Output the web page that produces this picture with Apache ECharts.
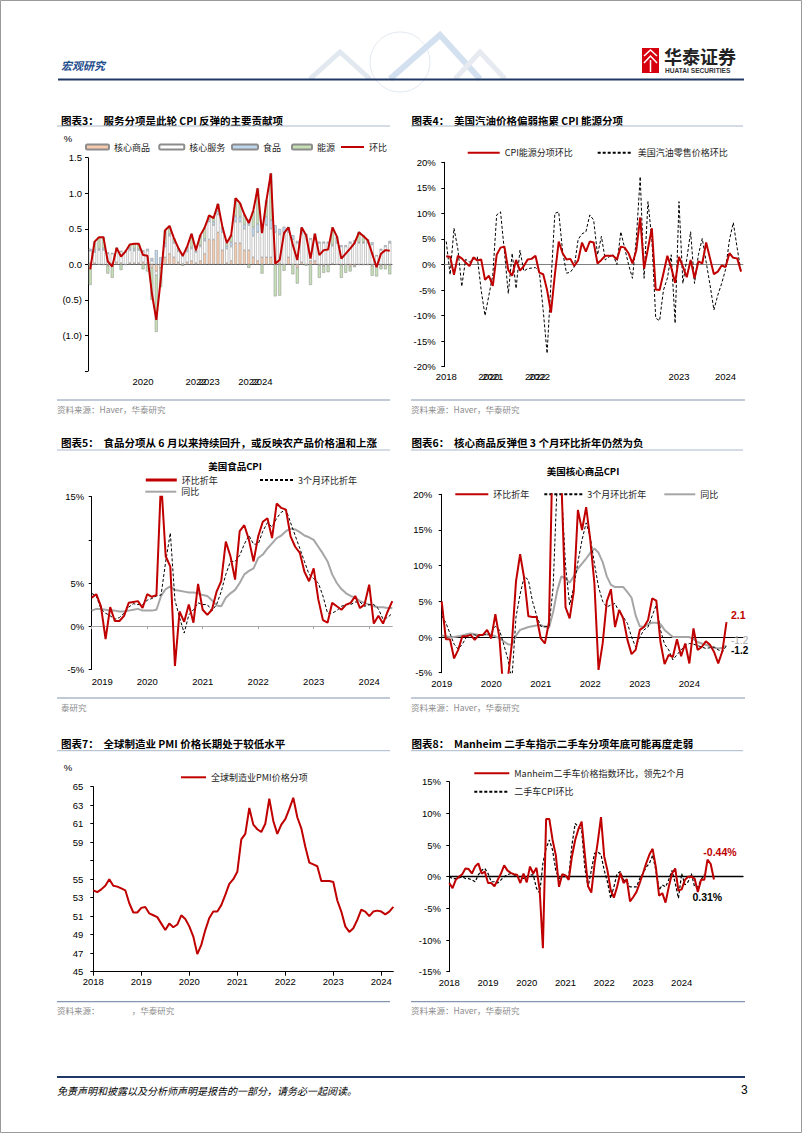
<!DOCTYPE html>
<html>
<head>
<meta charset="utf-8">
<title>宏观研究</title>
<script src="https://cdn.jsdelivr.net/npm/echarts/dist/echarts.min.js"></script>
<style>html,body{margin:0;padding:0;background:#fff}#c{width:802px;height:1133px}</style>
</head>
<body>
<div id="c"></div>
<script>
const NUM = '"Liberation Sans", Arial, sans-serif';
const CJK = '"Noto Sans CJK SC", "Noto Sans", sans-serif';

function months(y0, n) {
  const a = [];
  for (let i = 0; i < n; i++) a.push((y0 + Math.floor(i / 12)) + '-' + String(i % 12 + 1).padStart(2, '0'));
  return a;
}

// ---------- Chart 3: CPI contributions ----------
const c3Months = months(2019, 69);
const c3Ticks = [[12, '2020'], [24, '2022'], [27, '2023'], [36, '2022'], [39, '2024']];
const c3Goods = [0.02,0.02,0.00,-0.01,-0.02,0.01,0.03,0.02,0.00,0.02,0.02,0.02,0.03,0.02,-0.05,-0.10,-0.05,0.10,0.15,0.10,0.03,0.01,0.03,0.05,0.02,0.05,0.15,0.35,0.35,0.45,0.20,0.02,0.05,0.30,0.30,0.20,0.20,0.10,0.05,0.10,0.10,0.10,0.05,0.02,0.00,0.10,0.00,-0.05,0.03,0.00,0.05,0.05,-0.01,-0.02,-0.01,0.01,0.00,-0.01,0.00,-0.03,-0.02,-0.01,-0.01,-0.01,-0.02,-0.02,-0.02,-0.01,-0.01];
const c3Services = [0.17,0.15,0.20,0.20,0.15,0.14,0.18,0.16,0.17,0.18,0.17,0.18,0.15,0.17,0.05,-0.05,0.00,0.15,0.25,0.20,0.15,0.10,0.15,0.17,0.15,0.20,0.18,0.25,0.20,0.25,0.25,0.20,0.20,0.30,0.30,0.30,0.35,0.30,0.40,0.35,0.45,0.40,0.40,0.40,0.45,0.35,0.35,0.30,0.40,0.40,0.30,0.35,0.30,0.30,0.30,0.25,0.30,0.25,0.25,0.30,0.30,0.30,0.30,0.30,0.28,0.12,0.20,0.25,0.30];
const c3Food = [0.03,0.03,0.02,0.03,0.02,0.01,0.02,0.01,0.02,0.03,0.03,0.02,0.02,0.03,0.04,0.20,0.10,0.05,0.03,0.02,0.02,0.03,0.03,0.02,0.02,0.02,0.03,0.03,0.05,0.05,0.05,0.04,0.06,0.08,0.07,0.06,0.08,0.12,0.12,0.12,0.12,0.12,0.10,0.08,0.08,0.07,0.06,0.03,0.05,0.03,0.02,0.02,0.02,0.02,0.02,0.02,0.03,0.02,0.02,0.02,0.04,0.01,0.01,0.02,0.03,0.01,0.02,0.02,0.03];
const c3Energy = [-0.29,0.12,0.16,0.16,-0.11,-0.19,0.00,-0.08,-0.01,0.05,0.07,0.07,-0.07,-0.10,-0.45,-0.80,-0.27,0.18,0.11,0.05,0.03,-0.02,0.04,0.19,0.01,0.14,0.16,0.06,0.05,0.10,0.03,0.04,0.10,0.25,0.19,0.14,-0.05,0.23,0.50,-0.13,0.23,0.66,-0.45,-0.44,-0.09,0.00,-0.14,-0.22,0.04,-0.02,-0.29,0.01,-0.18,-0.10,-0.10,0.24,0.06,-0.18,-0.12,-0.07,-0.02,0.15,0.10,0.03,-0.14,-0.15,-0.05,-0.06,-0.13];
const c3Total = [-0.07,0.32,0.38,0.38,0.04,-0.03,0.23,0.11,0.18,0.28,0.29,0.29,0.13,0.12,-0.41,-0.78,-0.22,0.48,0.54,0.37,0.23,0.12,0.25,0.43,0.20,0.41,0.52,0.69,0.65,0.85,0.53,0.30,0.41,0.93,0.86,0.70,0.58,0.75,1.07,0.44,0.90,1.28,0.01,0.06,0.44,0.52,0.27,0.06,0.52,0.41,0.08,0.43,0.13,0.20,0.21,0.52,0.39,0.08,0.15,0.22,0.30,0.45,0.40,0.34,0.15,-0.04,0.15,0.20,0.19];

// ---------- Chart 4: energy CPI vs gasoline ----------
const c4Months = months(2018, 77);
const c4Ticks = [[0, '2018'], [11, '2020'], [12, '2021'], [23, '2022'], [24, '2022'], [60, '2023'], [72, '2024']];
const c4Cpi = [1.6,1.5,-2.0,1.7,1.2,0.4,-0.3,1.4,0.8,1.0,-3.0,-2.2,-4.2,1.9,3.3,3.5,-1.1,-2.2,0.9,-1.2,-0.3,1.0,1.1,1.7,-1.6,-1.9,-5.0,-9.4,-2.0,4.5,2.2,1.0,1.1,-0.3,0.8,4.3,2.5,4.5,4.3,0.2,0.9,1.7,1.7,1.7,1.0,3.5,3.3,2.2,0.2,2.8,9.2,-0.8,3.1,7.1,-4.9,-5.0,-1.7,1.7,-0.6,-3.6,1.5,-0.4,-2.5,0.9,-2.7,0.6,0.2,4.3,1.2,-1.9,-1.4,-0.2,-0.5,2.2,1.3,1.2,-1.4];
const c4Gas = [4.5,-2.0,7.1,3.0,-4.3,1.0,0.5,1.0,1.5,-5.0,-10.0,-6.0,-2.0,9.7,10.3,2.5,-5.7,2.2,-4.7,2.8,-1.3,-0.8,-0.7,-0.6,-1.4,-9.0,-17.4,-3.5,10.0,10.3,2.5,-1.7,-1.5,-0.5,4.9,6.0,6.4,9.7,8.7,1.9,5.5,0.9,1.5,1.9,0.0,6.4,3.2,0.0,-2.7,5.0,17.2,-2.7,12.3,5.0,-10.5,-11.0,-5.0,-2.7,1.9,-11.5,12.3,-3.7,1.0,6.4,-3.7,1.9,5.1,0.5,-4.0,-8.9,-6.0,-3.7,-1.0,4.8,8.2,3.2,-1.4];

// ---------- Chart 5: food CPI ----------
const c5Months = months(2019, 66);
const c5Ticks = [[0, '2019'], [12, '2020'], [24, '2021'], [36, '2022'], [48, '2023'], [60, '2024']];
const c5Mom = [3.3,3.7,2.3,-1.5,2.2,0.6,0.6,1.2,2.7,2.8,2.9,2.1,3.7,3.4,3.6,17.0,8.1,6.9,-4.6,1.7,0.5,2.5,0.4,4.9,1.9,1.3,1.9,4.0,5.2,9.8,8.1,5.4,11.0,11.7,10.0,7.5,10.4,12.1,12.5,10.2,14.2,13.7,13.5,10.4,9.2,8.5,6.3,5.2,6.7,3.1,0.7,0.4,2.7,2.3,1.9,2.5,2.7,3.5,2.1,2.5,4.8,0.3,1.2,0.3,1.7,2.9];
const c5Mom3 = [3.8,3.5,2.0,1.5,1.2,0.8,1.0,1.5,2.2,2.6,2.5,2.5,3.0,3.2,3.5,3.6,7.5,10.8,3.0,1.0,-0.8,1.3,1.9,2.7,2.5,2.5,1.8,2.5,4.0,6.0,7.5,7.5,8.2,9.5,10.5,9.5,9.5,11.0,12.0,11.5,12.5,13.2,13.5,12.0,10.5,9.0,7.5,6.0,5.5,5.0,3.5,1.5,1.5,1.8,2.3,2.5,2.5,2.8,2.8,2.3,2.5,2.5,2.0,0.8,1.0,1.5];
const c5Yoy = [1.8,2.0,2.0,1.9,1.8,1.8,1.7,1.7,1.8,1.9,2.0,1.8,1.8,1.8,1.9,3.5,4.3,4.6,4.2,4.1,4.0,3.9,3.9,3.8,3.6,3.5,3.0,2.4,2.3,3.3,3.8,4.2,5.0,6.0,6.4,6.7,7.9,8.3,9.0,9.6,10.2,10.5,11.0,11.3,11.2,10.9,10.5,10.3,10.0,9.2,8.4,7.5,6.0,5.0,4.3,3.8,3.5,3.3,2.9,2.7,2.5,2.3,2.2,2.2,2.1,2.1];

// ---------- Chart 6: core goods CPI ----------
const c6Months = months(2019, 74);
const c6Ticks = [[0, '2019'], [12, '2020'], [24, '2021'], [36, '2022'], [48, '2023'], [60, '2024']];
const c6Mom = [5.0,-0.3,-0.3,-3.0,-1.8,0.1,0.1,0.3,-0.4,0.3,0.3,1.0,-0.2,3.2,-0.2,-8.0,-6.0,-0.9,7.8,11.6,8.2,2.9,2.8,2.8,-0.2,-0.9,2.1,30.0,28.0,22.0,4.2,2.6,6.4,17.8,15.0,18.2,13.6,7.5,-4.6,-0.9,5.0,6.7,1.4,3.8,2.6,-0.4,-2.4,-1.8,1.0,1.4,2.4,5.4,5.1,-0.7,-3.8,-2.5,-2.8,-0.3,-2.7,-0.9,-3.7,1.2,-1.8,-1.4,-0.6,-1.1,-2.1,-3.7,-2.0,2.1];
const c6Mom3 = [3.0,2.0,0.5,-1.0,-1.7,-1.0,0.0,0.3,0.3,0.1,0.4,0.3,0.6,1.5,1.0,-1.0,-3.0,-6.0,2.8,6.0,8.5,8.0,5.0,3.0,1.5,1.5,1.5,7.0,22.0,21.0,10.0,4.5,7.0,10.5,13.6,16.0,14.0,10.3,7.0,5.0,4.2,4.5,4.7,3.5,2.8,1.9,0.0,-1.4,0.0,1.0,1.4,3.0,4.5,1.0,-1.0,-1.8,-3.2,-2.5,-1.8,-1.2,-0.9,-1.0,-1.2,-1.4,-1.6,-1.5,-1.4,-1.8,-2.1,-1.2];
const c6Yoy = [0.2,0.1,0.0,0.0,0.1,0.2,0.4,0.5,0.4,0.3,0.3,0.4,0.3,0.1,-0.2,-0.6,-1.0,-1.1,0.2,1.0,1.2,1.4,1.5,1.6,1.7,1.4,1.3,3.5,6.5,8.5,8.2,7.6,8.5,9.6,10.3,11.0,11.8,12.4,11.8,10.5,8.5,7.3,7.0,7.0,7.0,6.3,5.5,3.0,1.5,1.4,1.8,2.0,2.0,1.8,1.0,0.5,0.0,0.0,0.0,0.0,0.0,-0.3,-0.7,-0.9,-1.1,-1.3,-1.5,-1.6,-1.5,-1.2];

// ---------- Chart 7: global manufacturing PMI prices ----------
const c7Months = months(2018, 76);
const c7Ticks = [[0, '2018'], [12, '2019'], [24, '2020'], [36, '2021'], [48, '2022'], [60, '2023'], [72, '2024']];
const c7Pmi = [53.8,53.6,53.9,54.3,55.0,54.3,54.2,54.0,53.8,52.4,51.4,51.4,51.9,52.0,51.3,51.1,50.9,50.2,49.5,50.2,49.8,50.1,51.1,50.7,49.9,48.8,46.9,47.9,49.5,50.8,51.5,51.5,52.2,53.3,54.5,55.0,55.8,59.3,59.9,62.7,60.9,60.4,60.1,61.0,63.7,61.3,59.9,60.9,61.5,62.6,63.8,61.7,60.5,58.5,56.8,56.6,56.4,54.8,54.8,54.8,54.7,52.7,51.5,49.9,49.3,49.7,50.6,51.7,51.5,51.0,51.5,51.6,51.5,51.2,51.5,52.0];

// ---------- Chart 8: Manheim vs used car CPI ----------
const c8Months = months(2018, 92);
const c8Ticks = [[0, '2018'], [12, '2019'], [24, '2020'], [36, '2021'], [48, '2022'], [60, '2023'], [72, '2024']];
const c8Manheim = [-1.0,-1.8,-0.5,0.0,0.4,1.3,1.2,0.5,1.6,2.1,0.5,0.8,-1.0,-1.0,-1.5,-0.5,0.5,1.8,1.0,0.6,0.4,0.3,-1.0,0.5,-0.9,1.6,0.5,1.4,-2.1,-11.3,9.1,9.1,5.8,3.4,-1.6,0.4,0.2,-0.5,3.2,5.8,7.5,8.7,3.5,-1.5,-2.5,2.0,5.5,9.4,3.2,1.0,-2.1,-3.3,-1.6,0.6,-1.0,-0.4,-3.9,-3.2,-2.4,-1.0,0.5,2.1,3.5,4.4,1.5,-3.0,-2.6,-4.1,-1.6,0.5,1.3,-2.2,-2.0,-0.5,0.0,0.0,-0.3,-2.4,-0.5,-0.5,2.7,2.0,-0.44];
const c8Cpi = [0.0,-0.3,-0.3,-0.2,0.0,-0.3,-0.3,-0.5,-0.8,0.3,1.0,1.3,0.5,-0.8,-0.8,-1.0,-0.5,0.0,0.3,0.5,0.3,0.0,0.0,-0.3,0.0,0.3,0.3,-1.8,-2.6,2.1,4.5,5.8,4.2,1.0,-0.3,0.0,0.0,0.0,5.0,8.4,7.9,7.4,1.3,-1.6,1.0,3.7,3.9,3.5,1.0,-0.8,-3.4,-1.6,0.5,0.8,-0.5,-0.8,-1.6,-1.6,-1.6,-0.3,0.5,1.5,2.1,3.4,1.0,-2.1,-1.3,-1.6,-0.5,1.0,-1.0,-3.4,0.5,-1.3,-0.8,0.5,-1.6,-1.6,-0.5,0.31];

// ---------- helpers ----------
const RED = '#c00000', GRAY = '#a6a6a6';

function yAx(grid, min, max, interval, fmt, margin) {
  return {
    type: 'value', gridIndex: grid, min: min, max: max, interval: interval,
    axisLine: { show: true, onZero: false, lineStyle: { color: '#000', width: 1 } },
    axisTick: { show: true, inside: false, length: 3, lineStyle: { color: '#000' } },
    splitLine: { show: false },
    axisLabel: { formatter: fmt, margin: margin, fontSize: 9.5, color: '#000', fontFamily: NUM }
  };
}
function xLab(grid, cats, ticks, gap, margin, extra) {
  const m = new Map(ticks);
  return Object.assign({
    type: 'category', gridIndex: grid, data: cats, boundaryGap: gap, position: 'bottom',
    axisLine: { show: false, onZero: false }, axisTick: { show: false }, splitLine: { show: false },
    axisLabel: { interval: 0, margin: margin, fontSize: 9.5, color: '#000', fontFamily: NUM,
      formatter: function (v, i) { return m.has(i) ? m.get(i) : ''; } }
  }, extra || {});
}
function xZero(grid, cats, gap, color, width, ticks) {
  const s = new Set((ticks || []).map(function (t) { return t[0]; }));
  return {
    type: 'category', gridIndex: grid, data: cats, boundaryGap: gap, position: 'bottom',
    axisLine: { show: true, onZero: true, lineStyle: { color: color, width: width } },
    axisTick: { show: !!ticks, interval: function (i) { return s.has(i); }, length: 3, lineStyle: { color: color } },
    axisLabel: { show: false }, splitLine: { show: false }
  };
}
const HIDE = { color: 'rgba(0,0,0,0)', borderColor: 'rgba(0,0,0,0)', borderWidth: 0, opacity: 0 };
function lg(name, left, top, w, h, extra, isLine) {
  const o = {
    show: true, data: [name], left: left, top: top, padding: 0, itemWidth: w, itemHeight: h,
    selectedMode: false, formatter: function (n) { return n.split('#')[0]; },
    textStyle: { fontSize: 9, color: '#222', fontFamily: CJK }
  };
  if (isLine) o.itemStyle = HIDE;
  return Object.assign(o, extra || {});
}
function line(name, xi, yi, data, color, width, type, z) {
  return { type: 'line', name: name, xAxisIndex: xi, yAxisIndex: yi, data: data, symbol: 'none',
    showAllSymbol: true,
    lineStyle: { color: color, width: width, type: type || 'solid' }, itemStyle: { color: color },
    z: z || 3, animation: false };
}
function bar(name, data, color) {
  return { type: 'bar', name: name, xAxisIndex: 0, yAxisIndex: 0, stack: 'c3', data: data, barWidth: 3,
    itemStyle: { color: color, borderColor: '#8c8c8c', borderWidth: 0.5 }, animation: false };
}
function lastLabel(arr, label) {
  return arr.map(function (v, i) {
    return i === arr.length - 1
      ? { value: v, symbol: 'circle', symbolSize: 1, itemStyle: { color: 'rgba(0,0,0,0)', borderWidth: 0 }, label: label }
      : v;
  });
}

const fmt3 = function (v) {
  if (Math.abs(v + 1.5) < 1e-9) return '';
  return v < 0 ? '(' + (-v).toFixed(1) + ')' : v.toFixed(1);
};

// ---------- page graphics ----------
function txt(t, x, y, font, fill, align) {
  return { type: 'text', style: { text: t, x: x, y: y, font: font, fill: fill || '#000', align: align || 'left', verticalAlign: 'middle' } };
}
function hl(x1, x2, y, color, w) {
  return { type: 'line', shape: { x1: x1, y1: y, x2: x2, y2: y }, style: { stroke: color, lineWidth: w || 1 } };
}
const TF = 'bold 10.5px ' + CJK;
const SF = '8.5px ' + CJK;
const elements = [
  { type: 'rect', shape: { x: 0.5, y: 0.5, width: 801, height: 1132 }, style: { fill: 'none', stroke: '#9a9a9a', lineWidth: 1 } },
  // header decoration
  { type: 'circle', shape: { cx: 400, cy: 62, r: 30 }, style: { fill: 'none', stroke: '#e3e9f1', lineWidth: 1 } },
  { type: 'polyline', shape: { points: [[310, 79], [340, 52], [370, 79]] }, style: { stroke: '#e2e8f0', lineWidth: 5, fill: 'none' } },
  { type: 'polyline', shape: { points: [[390, 79], [440, 35], [480, 79]] }, style: { stroke: '#d3e0ef', lineWidth: 6, fill: 'none' } },
  { type: 'polyline', shape: { points: [[455, 79], [480, 52], [505, 79]] }, style: { stroke: '#e7ebf1', lineWidth: 5, fill: 'none' } },
  txt('宏观研究', 61, 65, 'italic bold 11px ' + CJK, '#1f4e8c'),
  hl(58, 744, 79.5, '#1f3864', 2),
  { type: 'rect', shape: { x: 642, y: 48, width: 17, height: 25 }, style: { fill: '#d7000f' } },
  { type: 'polyline', shape: { points: [[644, 56], [650.5, 50], [657, 56]] }, style: { stroke: '#fff', lineWidth: 1.5, fill: 'none' } },
  { type: 'polyline', shape: { points: [[644, 63], [650.5, 56], [657, 63]] }, style: { stroke: '#fff', lineWidth: 1.5, fill: 'none' } },
  { type: 'line', shape: { x1: 650.5, y1: 60, x2: 650.5, y2: 72 }, style: { stroke: '#fff', lineWidth: 1.5 } },
  txt('华泰证券', 664, 56, 'bold 18px ' + CJK, '#222'),
  txt('HUATAI SECURITIES', 665, 70, 'bold 6.6px ' + NUM, '#333'),
  // footer
  hl(57, 745, 1077, '#1f3864', 2),
  txt('免责声明和披露以及分析师声明是报告的一部分，请务必一起阅读。', 57, 1090, 'italic 10px ' + CJK, '#000'),
  txt('3', 741, 1090, '12px ' + NUM, '#000'),
  // chart titles
  txt('图表3：  服务分项是此轮 CPI 反弹的主要贡献项', 61, 120, TF),
  hl(57, 390, 126, '#a9b8cc', 1),
  txt('图表4：  美国汽油价格偏弱拖累 CPI 能源分项', 411.5, 120, TF),
  hl(411, 743, 126, '#a9b8cc', 1),
  txt('图表5：  食品分项从 6 月以来持续回升，或反映农产品价格温和上涨', 61, 442.7, TF),
  hl(57, 390, 450, '#a9b8cc', 1),
  txt('图表6：  核心商品反弹但 3 个月环比折年仍然为负', 411.5, 442.7, TF),
  hl(411, 743, 450, '#a9b8cc', 1),
  txt('图表7：  全球制造业 PMI 价格长期处于较低水平', 61, 743.3, TF),
  hl(57, 390, 750.7, '#a9b8cc', 1),
  txt('图表8：  Manheim 二手车指示二手车分项年底可能再度走弱', 411.5, 743.3, TF),
  hl(411, 743, 750.7, '#a9b8cc', 1),
  // subtitles and units
  txt('%', 68, 138.3, '9.5px ' + NUM, '#000', 'center'),
  txt('%', 68, 767.7, '9.5px ' + NUM, '#000', 'center'),
  txt('美国食品CPI', 235, 465.7, 'bold 9.5px ' + CJK, '#000', 'center'),
  txt('美国核心商品CPI', 583, 470.7, 'bold 9.5px ' + CJK, '#000', 'center'),
  // sources
  hl(57, 390, 400, '#8497b0', 1.2),
  hl(411, 745, 400, '#8497b0', 1.2),
  txt('资料来源：Haver，华泰研究', 57, 408.5, SF, '#8c8c8c'),
  txt('资料来源：Haver，华泰研究', 411, 408.5, SF, '#8c8c8c'),
  hl(57, 390, 698, '#8497b0', 1.2),
  hl(411, 745, 698, '#8497b0', 1.2),
  txt('泰研究', 61, 706.7, SF, '#8c8c8c'),
  txt('资料来源：Haver，华泰研究', 411, 706.7, SF, '#8c8c8c'),
  hl(57, 390, 1001.7, '#8497b0', 1.2),
  hl(411, 745, 1001.7, '#8497b0', 1.2),
  txt('资料来源：', 57, 1010, SF, '#8c8c8c'),
  txt('，华泰研究', 131.7, 1010, SF, '#8c8c8c'),
  txt('资料来源：Haver，华泰研究', 411, 1010, SF, '#8c8c8c')
];

const c7Set = new Set(c7Ticks.map(function (t) { return t[0]; }));
const c7Map = new Map(c7Ticks);

const option = {
  animation: false,
  backgroundColor: '#fff',
  textStyle: { fontFamily: NUM },
  graphic: { elements: elements },
  grid: [
    { left: 88, top: 157.7, width: 304, height: 213.3 },
    { left: 444.3, top: 162.3, width: 298.7, height: 204.4 },
    { left: 91.7, top: 496.7, width: 300.6, height: 172.6 },
    { left: 441.7, top: 494.3, width: 301.3, height: 178.4 },
    { left: 93.3, top: 786.7, width: 300, height: 185 },
    { left: 449.3, top: 781.7, width: 293.7, height: 190 }
  ],
  xAxis: [
    xLab(0, c3Months, c3Ticks, true, 5),
    xZero(0, c3Months, true, '#595959', 1),
    xLab(1, c4Months, c4Ticks, true, 4.5),
    xZero(1, c4Months, true, '#808080', 1),
    xLab(2, c5Months, c5Ticks, false, 7, {}),
    xZero(2, c5Months, false, '#a6a6a6', 1, c5Ticks),
    xLab(3, c6Months, c6Ticks, false, 6),
    xZero(3, c6Months, false, '#000', 1),
    {
      type: 'category', gridIndex: 4, data: c7Months, boundaryGap: false, position: 'bottom',
      axisLine: { show: true, onZero: false, lineStyle: { color: '#000', width: 1 } },
      axisTick: { show: true, interval: function (i) { return c7Set.has(i); }, length: 4, lineStyle: { color: '#000' } },
      splitLine: { show: false },
      axisLabel: { interval: 0, margin: 5, fontSize: 9.5, color: '#000', fontFamily: NUM,
        formatter: function (v, i) { return c7Map.has(i) ? c7Map.get(i) : ''; } }
    },
    xLab(5, c8Months, c8Ticks, false, 6),
    xZero(5, c8Months, false, '#000', 1.3)
  ],
  yAxis: [
    yAx(0, -1.5, 1.5, 0.5, fmt3, 6),
    yAx(1, -20, 20, 5, function (v) { return v + '%'; }, 8.5),
    yAx(2, -5, 15, 5, function (v) { return v === 10 ? '' : v + '%'; }, 7.5),
    yAx(3, -5, 20, 5, function (v) { return v + '%'; }, 9.5),
    yAx(4, 45, 65, 2, function (v) { return v === 57 ? '' : String(v); }, 10),
    yAx(5, -15, 15, 5, function (v) { return v + '%'; }, 8.3)
  ],
  legend: [
    lg('核心商品', 85, 142.5, 23, 5),
    lg('核心服务', 158.3, 142.5, 25, 5),
    lg('食品', 231, 142.5, 26, 5),
    lg('能源', 291, 142.5, 20, 5),
    lg('环比', 340, 142.5, 23, 8, null, true),
    lg('CPI能源分项环比', 466.7, 148.2, 32, 8, null, true),
    lg('美国汽油零售价格环比', 596.7, 148.2, 35, 8, null, true),
    lg('环比折年#5', 144.3, 475.5, 31, 8, { lineStyle: { width: 3 } }, true),
    lg('3个月环比折年#5', 259, 475.5, 33, 8, null, true),
    lg('同比#5', 144.3, 487.2, 31, 8, null, true),
    lg('环比折年#6', 454.3, 489.8, 33, 8, null, true),
    lg('3个月环比折年#6', 543.3, 489.8, 38, 8, null, true),
    lg('同比#6', 663.3, 489.8, 31, 8, null, true),
    lg('全球制造业PMI价格分项', 180, 772.8, 25, 8, null, true),
    lg('Manheim二手车价格指数环比，领先2个月', 473.3, 768.8, 35, 8, null, true),
    lg('二手车CPI环比', 473.3, 787.2, 35, 8, null, true)
  ],
  series: [
    bar('核心商品', c3Goods, '#f8cbad'),
    bar('核心服务', c3Services, '#ffffff'),
    bar('食品', c3Food, '#bdd7ee'),
    bar('能源', c3Energy, '#c5e0b4'),
    line('环比', 0, 0, c3Total, RED, 2, 'solid', 5),

    line('美国汽油零售价格环比', 2, 1, c4Gas, '#000', 1, [3, 2], 3),
    line('CPI能源分项环比', 2, 1, c4Cpi, RED, 2, 'solid', 4),

    line('同比#5', 4, 2, c5Yoy, GRAY, 2, 'solid', 2),
    line('3个月环比折年#5', 4, 2, c5Mom3, '#000', 1, [3, 2], 3),
    line('环比折年#5', 4, 2, c5Mom, RED, 2, 'solid', 4),

    line('同比#6', 6, 3, lastLabel(c6Yoy, { show: true, position: 'right', distance: 4, offset: [0, -5],
      formatter: function (p) { return p.value.toFixed(1); }, color: GRAY, fontSize: 10, fontFamily: NUM }), GRAY, 2, 'solid', 2),
    line('3个月环比折年#6', 6, 3, lastLabel(c6Mom3, { show: true, position: 'right', distance: 4, offset: [0, 5],
      formatter: function (p) { return p.value.toFixed(1); }, color: '#000', fontWeight: 'bold', fontSize: 10, fontFamily: NUM }), '#000', 1, [3, 2], 3),
    line('环比折年#6', 6, 3, lastLabel(c6Mom, { show: true, position: 'right', distance: 4, offset: [0, -7],
      formatter: function (p) { return p.value.toFixed(1); }, color: RED, fontWeight: 'bold', fontSize: 10.5, fontFamily: NUM }), RED, 2, 'solid', 4),

    line('全球制造业PMI价格分项', 8, 4, c7Pmi, RED, 2, 'solid', 3),

    line('二手车CPI环比', 9, 5, lastLabel(c8Cpi, { show: true, position: 'bottom', distance: 5, offset: [3, 11],
      formatter: function (p) { return p.value.toFixed(2) + '%'; }, color: '#000', fontWeight: 'bold', fontSize: 10.5, fontFamily: NUM }), '#000', 1.2, [3, 2], 3),
    line('Manheim二手车价格指数环比，领先2个月', 9, 5, lastLabel(c8Manheim, { show: true, position: 'top', distance: 5, offset: [6, -16],
      formatter: function (p) { return p.value.toFixed(2) + '%'; }, color: RED, fontWeight: 'bold', fontSize: 10.5, fontFamily: NUM }), RED, 2, 'solid', 4)
  ]
};
// chart 5 first year label is left-aligned at the axis start
option.xAxis[4].axisLabel.alignMinLabel = 'left';

const chart = echarts.init(document.getElementById('c'), null, { renderer: 'svg', width: 802, height: 1133 });
chart.setOption(option);
</script>
</body>
</html>
